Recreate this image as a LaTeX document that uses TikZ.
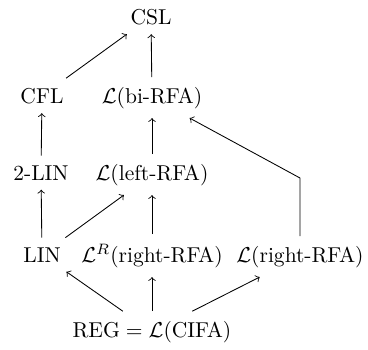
\documentclass[tikz,border=0pt]{standalone}
\usepackage{amsmath}
\usepackage{amssymb}
\usepackage{tikz}

\begin{document}
\begin{tikzpicture}[x=0.465pt,y=-0.465pt,
  lang/.style={anchor=base,inner sep=3.3pt,outer sep=1.2pt}]
\useasboundingbox (0,0) rectangle (368,349);
\node[lang] (csl) at (151,24) {CSL};
\node[lang] (cfl) at (42,103) {CFL};
\node[lang] (bi) at (152,103) {$\mathcal{L}(\text{bi-RFA})$};
\node[lang] (lin2) at (41,180) {2-LIN};
\node[lang] (lft) at (152,180) {$\mathcal{L}(\text{left-RFA})$};
\node[lang] (lin) at (42,262) {LIN};
\node[lang] (rrev) at (152,262) {$\mathcal{L}^R(\text{right-RFA})$};
\node[lang] (rgt) at (300,262) {$\mathcal{L}(\text{right-RFA})$};
\node[lang] (reg) at (152,337) {$\text{REG} = \mathcal{L}(\text{CIFA})$};
\coordinate (bend) at (rgt |- 0,178);
\draw[->] (cfl) -- (csl);
\draw[->] (bi) -- (csl);
\draw[->] (lin2) -- (cfl);
\draw[->] (lft) -- (bi);
\draw[->] (lin) -- (lin2);
\draw[->] (lin) -- (lft);
\draw[->] (rrev) -- (lft);
\draw[->] (rgt) -- (bend) -- (bi);
\draw[->] (reg) -- (lin);
\draw[->] (reg) -- (rrev);
\draw[->] (reg) -- (rgt);
\end{tikzpicture}
\end{document}
